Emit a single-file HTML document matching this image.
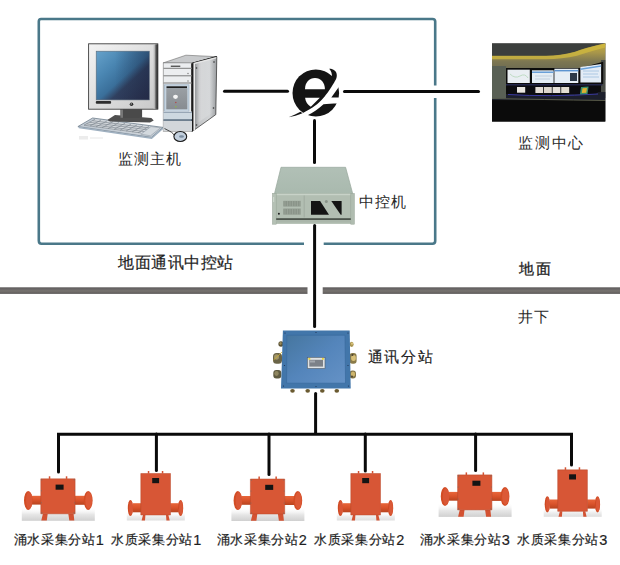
<!DOCTYPE html>
<html><head><meta charset="utf-8">
<style>
html,body{margin:0;padding:0;background:#fff;width:620px;height:565px;overflow:hidden}
body{position:relative;font-family:"Liberation Sans",sans-serif;color:#222}
svg{position:absolute;left:0;top:0}
.t{position:absolute;white-space:nowrap;line-height:1;font-size:15px;letter-spacing:1px;color:#2a2a2a}
.d{font-size:14.5px;line-height:0;position:relative;top:0.8px}
.s{position:absolute;white-space:nowrap;line-height:1;font-size:13px;letter-spacing:0.7px;color:#1e1e1e;-webkit-text-stroke:0.2px #1e1e1e}
</style></head><body>
<svg width="620" height="565" viewBox="0 0 620 565">
<defs>
<linearGradient id="scr" x1="0" y1="0" x2="1" y2="1">
<stop offset="0" stop-color="#66a2cb"/><stop offset="0.3" stop-color="#4a86b2"/><stop offset="0.52" stop-color="#3a6f9a"/><stop offset="0.64" stop-color="#30405f"/><stop offset="1" stop-color="#2a2f4b"/>
</linearGradient>
<linearGradient id="side2" x1="0" y1="0" x2="1" y2="0">
<stop offset="0" stop-color="#fff" stop-opacity="0"/><stop offset="0.3" stop-color="#fff" stop-opacity="0.25"/><stop offset="1" stop-color="#fff" stop-opacity="0"/>
</linearGradient>
<linearGradient id="side" x1="0" y1="0" x2="1" y2="0">
<stop offset="0" stop-color="#7a7d80"/><stop offset="0.3" stop-color="#c4c6c8"/><stop offset="0.7" stop-color="#d2d4d6"/><stop offset="1" stop-color="#9a9da0"/>
</linearGradient>
<linearGradient id="fpan" x1="0" y1="0" x2="0" y2="1">
<stop offset="0" stop-color="#9a9fa4"/><stop offset="1" stop-color="#878c91"/>
</linearGradient>
<linearGradient id="bez" x1="0" y1="0" x2="1" y2="1">
<stop offset="0" stop-color="#f4f4f4"/><stop offset="1" stop-color="#c8c8c8"/>
</linearGradient>
<linearGradient id="floor" x1="0" y1="0" x2="0" y2="1">
<stop offset="0" stop-color="#ffffff" stop-opacity="0"/><stop offset="1" stop-color="#d8d8d8"/>
</linearGradient>
<linearGradient id="wall" x1="0" y1="0" x2="0" y2="1">
<stop offset="0" stop-color="#c4ac3c"/><stop offset="0.25" stop-color="#a8964a"/><stop offset="0.5" stop-color="#7c7652"/><stop offset="1" stop-color="#5a5d52"/>
</linearGradient>
<linearGradient id="ipctop" x1="0" y1="0" x2="0" y2="1">
<stop offset="0" stop-color="#b1c0b6"/><stop offset="1" stop-color="#a9b9ae"/>
</linearGradient>
<linearGradient id="jbox" x1="0" y1="0" x2="1" y2="1">
<stop offset="0" stop-color="#46769f"/><stop offset="0.5" stop-color="#5485bb"/><stop offset="1" stop-color="#6592c6"/>
</linearGradient>
<linearGradient id="flr" x1="0" y1="0" x2="0" y2="1">
<stop offset="0" stop-color="#fff" stop-opacity="0"/><stop offset="0.55" stop-color="#e6e6e6"/><stop offset="1" stop-color="#d0d0d0"/>
</linearGradient>
<linearGradient id="pipe" x1="0" y1="0" x2="0" y2="1">
<stop offset="0" stop-color="#e8663a"/><stop offset="0.5" stop-color="#d9532b"/><stop offset="1" stop-color="#b8441f"/>
</linearGradient>
<linearGradient id="band" x1="0" y1="0" x2="0" y2="1">
<stop offset="0" stop-color="#5e5b5b"/><stop offset="0.3" stop-color="#6b6868"/><stop offset="0.55" stop-color="#77736f"/><stop offset="0.8" stop-color="#696563"/><stop offset="1" stop-color="#5c5a5a"/>
</linearGradient>
<linearGradient id="bezr" x1="0" y1="0" x2="1" y2="0">
<stop offset="0" stop-color="#d0d0d0" stop-opacity="0"/><stop offset="0.45" stop-color="#a8a8a8"/><stop offset="0.6" stop-color="#555"/><stop offset="1" stop-color="#2e2e2e"/>
</linearGradient>
<linearGradient id="scr2" x1="0" y1="0" x2="1" y2="0">
<stop offset="0" stop-color="#1a2440" stop-opacity="0"/><stop offset="0.35" stop-color="#1a2440" stop-opacity="0"/><stop offset="1" stop-color="#1a2440" stop-opacity="0.4"/>
</linearGradient>
<g id="bigdev">
  <rect x="-19" y="28" width="73" height="14" fill="url(#flr)"/>
  <rect x="-9" y="17" width="10" height="8.8" fill="url(#pipe)"/>
  <rect x="33.8" y="17" width="10.5" height="9" fill="url(#pipe)"/>
  <ellipse cx="-12.6" cy="21.6" rx="4.2" ry="9.5" fill="#d24c24"/>
  <ellipse cx="-11.6" cy="21.6" rx="3.2" ry="8.6" fill="#d95635"/>
  <ellipse cx="47.4" cy="21.6" rx="4.4" ry="9.5" fill="#d24c24"/>
  <ellipse cx="47.9" cy="21.6" rx="3.4" ry="8.3" fill="#dc5936"/>
  <path d="M2.1 35 L0.5 41.8 L6 41.8 L6.9 35Z M27.5 35 L28.5 41.8 L33.5 41.8 L32.8 35Z" fill="#d35232"/>
  <rect x="0" y="0" width="34.3" height="35" fill="#d85735"/>
  <path d="M0 0 H34.3 V35 H0Z" fill="none" stroke="#b9492a" stroke-width="0.5"/>
  <g fill="#7a6a64"><circle cx="1" cy="1" r="0.6"/><circle cx="33.3" cy="1" r="0.6"/><circle cx="1" cy="34" r="0.6"/><circle cx="33.3" cy="34" r="0.6"/><circle cx="0.6" cy="12" r="0.5"/><circle cx="33.7" cy="12" r="0.5"/><circle cx="0.6" cy="24" r="0.5"/><circle cx="33.7" cy="24" r="0.5"/></g>
  <rect x="14.8" y="5.8" width="8" height="5.1" fill="#141414"/>
  <rect x="8" y="-2.5" width="1.5" height="2.6" fill="#d35232"/><rect x="25" y="-2.5" width="1.5" height="2.6" fill="#d35232"/>
</g>
<g id="talldev">
  <rect x="-14" y="38" width="58" height="9" fill="url(#flr)" opacity="0.7"/>
  <rect x="-8" y="29.7" width="8.5" height="9.1" fill="url(#pipe)"/>
  <rect x="29.5" y="29.7" width="8.5" height="9.1" fill="url(#pipe)"/>
  <ellipse cx="-10.4" cy="34.5" rx="2.6" ry="8.1" fill="#cf4a23"/>
  <ellipse cx="-9.8" cy="34.5" rx="1.9" ry="7.2" fill="#d95635"/>
  <ellipse cx="39.8" cy="34.5" rx="2.6" ry="8.1" fill="#cf4a23"/>
  <ellipse cx="40.2" cy="34.5" rx="1.9" ry="7.2" fill="#da5836"/>
  <path d="M2.2 41.5 L0.8 47 L4.2 47 L4.6 41.5Z M25.2 41.5 L25.6 47 L28.9 47 L27.6 41.5Z" fill="#d35232"/>
  <rect x="0" y="0" width="29.7" height="41.5" fill="#d75636"/>
  <path d="M0 0 H29.7 V41.5 H0Z" fill="none" stroke="#b9492a" stroke-width="0.5"/>
  <rect x="11.4" y="4.5" width="6.9" height="5.2" fill="#141414"/>
  <rect x="7" y="-2.5" width="1.5" height="2.6" fill="#d35232"/><rect x="21" y="-2.5" width="1.5" height="2.6" fill="#d35232"/>
</g>
</defs>

<!-- frame -->
<path d="M304 19 H41 Q38.8 19 38.8 21.5 V240.5 Q38.8 243.7 41.5 243.7 H304 M323.7 243.7 H432.5 Q435.2 243.7 435.2 241 V98 M435.2 85.5 V21.5 Q435.2 19 432.5 19 H304" fill="none" stroke="#4a7889" stroke-width="2.6"/>
<!-- ground band -->
<rect x="0" y="287.3" width="307.5" height="6.6" fill="url(#band)"/>
<rect x="322.7" y="287.3" width="297.3" height="6.6" fill="url(#band)"/>

<!-- black lines -->
<g stroke="#0a0a0a" stroke-width="3" stroke-linecap="round" fill="none">
<line x1="224.5" y1="91.2" x2="287.5" y2="91.2"/>
<line x1="344.5" y1="91.6" x2="478.5" y2="91.6"/>
<line x1="314.5" y1="120.5" x2="314.5" y2="162.5"/>
<line x1="314.6" y1="225.5" x2="314.6" y2="326.5"/>
<line x1="315.6" y1="393.5" x2="315.6" y2="433"/>
<path d="M58.5 472 V434.3 H571.5 V465"/>
<line x1="156.4" y1="434" x2="156.4" y2="470.5"/>
<line x1="269" y1="434" x2="269" y2="474.5"/>
<line x1="365.3" y1="434" x2="365.3" y2="471"/>
<line x1="475.6" y1="434" x2="475.6" y2="470.5"/>
</g>

<!-- e logo -->
<g>
<ellipse cx="315.8" cy="93" rx="23.3" ry="23.6" fill="#141414"/>
<path d="M305 89.3 C305 82.5 309.3 78.1 315 78.1 C320.6 78.1 324.9 82.5 324.9 89.3 Z" fill="#fff"/>
<path d="M305.1 97.7 L319.8 97.7 L310.8 106.8 C307.5 104.8 305.5 101.5 305.1 97.7 Z" fill="#fff"/>
<path d="M289 117.6 C296 116.6 303.5 113.3 312.5 107.6 C316 105 318.5 103 320 101.4 C322.5 99 324.5 97 325.7 95 C328.5 91.5 331 88 332.6 85 C333.6 83.5 334.6 82 335.2 80.6 C336.4 78.5 337.2 76.5 337.1 74.5 C336.9 71.5 336 69 333.5 66 L345 66 L345 86.9 L338.8 86.9 L331.3 97.6 L345 97.6 L345 103.5 L337.5 103.5 C333 103.5 327 103.8 323.5 104.2 C318.5 108.5 313.5 112.5 306.6 115.8 C300 118.2 294 119 289 119.5 Z" fill="#fff"/>
<path d="M329.2 68.8 C333 68.6 336.7 71 336.8 75 C336.9 77.3 336.1 79.3 335.2 80.6 L332 77 C332 73.5 331.2 70.8 329.2 68.8 Z" fill="#141414"/>
<path d="M288.6 117.2 C293 116.5 298 115.2 302.5 113.2 L300.5 111.8 C296.5 114 292.5 116 288.6 117.2 Z" fill="#141414"/>
</g>

<!-- computer -->
<g>
<!-- keyboard -->
<path d="M77.9 126.6 L92.6 118 L163 127.4 L151.4 137.4 Z" fill="#c3ccd5" stroke="#6f7e8c" stroke-width="0.8" stroke-linejoin="round"/>
<rect x="79" y="136" width="9" height="3.5" fill="#ececec"/><rect x="90" y="137" width="13" height="2" fill="#f3f3f3"/>
<path d="M78.5 126.8 L151.4 137.4 L163 127.4 L163.2 129 L151.8 139 L78.8 128.3Z" fill="#9fb0c0"/>
<path d="M84 125.2 L95 119.3 L150 126.4 L140 134.2 Z" fill="#d5d9dd"/>
<g stroke="#7a838c" stroke-width="0.65">
<path d="M86.5 123.9 L144.5 131.6 M89.5 122.3 L147.3 129.7 M92.5 120.7 L149.5 128 M84 125.2 L141 133"/>
<path d="M95 119.3 L84 125.2 M101 120.1 L90 126 M107 120.9 L96 126.9 M113 121.7 L102 127.7 M119 122.5 L108 128.6 M125 123.3 L114 129.4 M131 124.1 L120 130.3 M137 124.9 L126 131.1 M143 125.7 L132 132 M149 126.4 L138 132.9"/>
</g>
<path d="M141 134.2 L151 126.6 L160.5 127.8 L150.5 135.8Z" fill="#d3d9de" stroke="#8b959f" stroke-width="0.5"/>
<path d="M107.3 120 L115 115 L151.4 118 L153.7 120.4 L150 122.5 L110 121.5 Z" fill="#505050"/>
<rect x="120.5" y="108.5" width="21.6" height="9.3" fill="#4a4a4a"/>
<rect x="120.5" y="108.5" width="2.5" height="9.3" fill="#777"/>
<!-- monitor -->
<rect x="88.6" y="43.8" width="69.2" height="65.4" fill="url(#bez)" stroke="#3e3e3e" stroke-width="0.9"/>
<rect x="152.5" y="44.3" width="5.6" height="64.6" fill="url(#bezr)"/>
<rect x="96.2" y="51.2" width="53.1" height="48.7" fill="url(#scr)" stroke="#5a6a7a" stroke-width="0.6"/>
<rect x="96.5" y="51.5" width="52.5" height="48.1" fill="url(#scr2)"/>
<rect x="95.8" y="100.9" width="15.3" height="2.8" rx="1" fill="#2d2d2d"/>
<circle cx="131.5" cy="104.3" r="1.8" fill="#2b2b2b"/>
<circle cx="131.2" cy="103.9" r="0.6" fill="#ddd"/>
<!-- tower -->
<path d="M163.2 62.9 L185.9 55.2 L216.8 56.7 L192 63.4Z" fill="#c8cacc" stroke="#6a6a6a" stroke-width="0.6"/>
<path d="M192 63.4 L216.8 56.7" stroke="#1e1e1e" stroke-width="1.2"/>
<rect x="163.2" y="62.9" width="28.8" height="68.3" fill="#eceef0" stroke="#7a7a7a" stroke-width="0.6"/>
<path d="M192 63.4 L216.8 56.7 L215.8 114.6 L192 131.6Z" fill="url(#side)" stroke="#2a2a2a" stroke-width="0.7"/>
<path d="M196 63 L214 58 L213.5 112 L196 124Z" fill="url(#side2)"/>
<line x1="192.4" y1="63.4" x2="192.4" y2="131" stroke="#1a1a1a" stroke-width="2.2"/>
<path d="M193.6 63 L195 62.6 L195 130.3 L193.6 131.2Z" fill="#ececec"/>
<path d="M195 62.6 L216.5 57 L216 58.5 L195 64Z" fill="#e6e6e6"/>
<circle cx="196.5" cy="68" r="0.8" fill="#333"/><circle cx="214" cy="62" r="0.8" fill="#333"/>
<circle cx="213.5" cy="108" r="0.8" fill="#333"/><circle cx="196.5" cy="125" r="0.8" fill="#333"/>
<rect x="170.8" y="65.6" width="9.5" height="1.3" fill="#4a4a4a"/>
<line x1="163.5" y1="68.3" x2="192" y2="68.3" stroke="#7d7d7d" stroke-width="1"/>
<line x1="163.5" y1="75.8" x2="192" y2="75.8" stroke="#7d7d7d" stroke-width="1"/>
<line x1="163.5" y1="83" x2="192" y2="83" stroke="#7d7d7d" stroke-width="1"/>
<circle cx="188" cy="73.5" r="0.7" fill="#777"/><circle cx="188" cy="81" r="0.7" fill="#777"/>
<rect x="164.3" y="84.8" width="24.7" height="26.5" fill="#c5d3df" stroke="#94a9bd" stroke-width="0.6"/>
<rect x="166.3" y="88.3" width="21" height="21" fill="url(#fpan)"/>
<rect x="166.5" y="86.3" width="20.5" height="1.8" fill="#1e1e1e"/>
<ellipse cx="175.5" cy="96.8" rx="2.4" ry="2.1" fill="#f4f4f4"/>
<circle cx="175.8" cy="102.5" r="0.8" fill="#b04a4a"/>
<circle cx="175.8" cy="106.7" r="0.8" fill="#90b848"/>
<rect x="163.5" y="111.5" width="28.5" height="8" fill="#cdd8e0"/>
<rect x="163.5" y="112.2" width="28.5" height="0.8" fill="#8a9aaa"/>
<rect x="163.5" y="119.3" width="28.5" height="1.5" fill="#4f6478"/>
<rect x="163.5" y="121" width="28.5" height="10" fill="#d2d6da"/>
<path d="M164.5 128.5 C168 130.5 171 131.5 173 133.5 C174.5 135.5 175.5 138 177 139.5" stroke="#222" stroke-width="0.8" fill="none"/>
<ellipse cx="180.3" cy="136.5" rx="6.4" ry="5" fill="#c3d0de" stroke="#1a1a1a" stroke-width="1.1"/>
<ellipse cx="181.5" cy="136.5" rx="2.5" ry="1.2" fill="#7d8fa2"/>
</g>

<!-- monitoring center photo -->
<g>
<rect x="492" y="43.5" width="113.3" height="78" fill="#0d0d0d"/>
<path d="M492 43.5 H605.3 V44.5 Q585 49.5 575 53.5 Q560 57.5 546 57.5 H492Z" fill="#3c3f3d"/>
<path d="M492 56 H546 Q560 56 575 52 Q585 48 605.3 43.5 V80 H492Z" fill="url(#wall)"/>
<path d="M492 55.8 H546 Q560 55.8 575 51.8 Q585 47.8 605.3 43.3 V47.5 Q588 52 577 55.8 Q562 59.2 546 59.2 H492Z" fill="#d2ba3e" opacity="0.75"/>
<rect x="492" y="66" width="14" height="32" fill="#596055"/>
<rect x="494" y="70" width="9" height="14" fill="#66766f"/>
<path d="M601 60 H605.3 V98 H601Z" fill="#4a4d48"/>
<path d="M505.4 68.1 H580 L603.2 61.8 V84 H505.4Z" fill="#0b0b0b"/>
<rect x="507.5" y="69.7" width="22.3" height="13.3" fill="#e9eef2"/>
<rect x="532" y="70.3" width="21.6" height="12.7" fill="#e4edf4"/>
<rect x="532" y="71.5" width="21.6" height="1.5" fill="#6aa0d8"/>
<rect x="554.4" y="68.7" width="23.9" height="14.3" fill="#e6eef5"/>
<rect x="554.4" y="70" width="23.9" height="1.4" fill="#5d94d0"/>
<rect x="570" y="73" width="7" height="8" fill="#2e3a48"/>
<path d="M580.4 67.1 L601.1 63.9 V82.5 H580.4Z" fill="#e3ecf6"/>
<path d="M580.4 68.5 L601.1 65.3 V66.8 L580.4 70Z" fill="#6aa2dc"/>
<path d="M510 74 Q515 79 520 76 T528 78" stroke="#bfdcc4" stroke-width="1" fill="none"/>
<path d="M535 76 H552 M535 79 H550" stroke="#b9c9d9" stroke-width="0.8"/>
<path d="M583 71 H599 M583 74 H598 M583 77 H599" stroke="#9fc0e0" stroke-width="0.8"/>
<rect x="505.4" y="84" width="97" height="1.5" fill="#23264a"/>
<path d="M492 100 H605.3 V92 Q580 92 560 95 Q530 96 507 94 H492Z" fill="#1c1f2c"/>
<path d="M492 98.5 Q540 99.5 605.3 100.5" stroke="#5a5c4a" stroke-width="1" fill="none"/>
<rect x="492" y="66" width="14" height="32.5" fill="#596055"/>
<rect x="507.4" y="86" width="90.9" height="8.2" rx="4.1" fill="#0c0c10"/>
<path d="M508 94.5 Q550 97 598 94" stroke="#3a3aa0" stroke-width="1" fill="none"/>
<rect x="517" y="87" width="8.2" height="5.7" fill="#e9e6e0"/>
<rect x="535.4" y="87" width="7.8" height="6" fill="#e4ded6"/>
<rect x="544" y="87" width="7.8" height="6" fill="#dcd6cc"/>
<rect x="552.6" y="87" width="7.8" height="6" fill="#e6e2da"/>
<rect x="561.2" y="87" width="8" height="6" fill="#e3ddd2"/>
<path d="M581 87 L588.6 86.5 L587.5 94 L579.9 94.5Z" fill="#3b8d6a"/>
<path d="M582.5 88.3 L587 88 L586.2 92.8 L581.8 93.1Z" fill="#e0b030"/>
<rect x="492" y="101" width="113.3" height="20.5" fill="#0b0b0b"/>
</g>

<!-- industrial PC -->
<g>
<path d="M281 167.3 H345.6 L352.8 194 H274.4Z" fill="url(#ipctop)" stroke="#98a89c" stroke-width="0.7"/>
<rect x="273" y="193.5" width="80.5" height="30.4" fill="#b2beb2"/>
<rect x="276" y="193.8" width="75" height="1.4" fill="#c8d2c8"/>
<rect x="272.4" y="193.6" width="3.8" height="30.6" fill="#b5c1b5" stroke="#97a497" stroke-width="0.5"/>
<rect x="273" y="197" width="1.2" height="5" fill="#cdd7cd"/>
<rect x="350.8" y="193.6" width="3.6" height="30.6" fill="#b0bcb0" stroke="#97a497" stroke-width="0.5"/>
<rect x="276.2" y="218.2" width="74.6" height="1.8" fill="#4d554d"/>
<rect x="276.2" y="220" width="74.6" height="2.5" fill="#aab6aa"/>
<line x1="304.2" y1="195.5" x2="304.2" y2="217.5" stroke="#9eaa9e" stroke-width="0.9"/>
<rect x="283.3" y="200.9" width="17.4" height="5.6" fill="#8a9489"/>
<rect x="283.3" y="208.6" width="17.4" height="6" fill="#8a9489"/>
<g stroke="#a6b0a4" stroke-width="0.5">
<path d="M285 200.9 V206.5 M287.5 200.9 V206.5 M290 200.9 V206.5 M292.5 200.9 V206.5 M295 200.9 V206.5 M297.5 200.9 V206.5 M300 200.9 V206.5 M285 208.6 V214.6 M287.5 208.6 V214.6 M290 208.6 V214.6 M292.5 208.6 V214.6 M295 208.6 V214.6 M297.5 208.6 V214.6 M300 208.6 V214.6"/>
</g>
<circle cx="278.9" cy="213.8" r="1" fill="#1e1e1e"/>
<path d="M311 201.1 H320.1 L329 214.7 H311Z" fill="#141414"/>
<path d="M331.3 201.1 H341.6 V214.7 H340.7Z" fill="#141414"/>
<circle cx="326.3" cy="201.5" r="1.5" fill="#8a948a"/>
</g>

<!-- junction box -->
<g>
<g>
<ellipse cx="281" cy="344" rx="2.6" ry="2.8" fill="#5a5236"/><ellipse cx="280.5" cy="343.5" rx="1.2" ry="1.4" fill="#9a8a58"/>
<rect x="273" y="353" width="9" height="10.7" rx="3.5" fill="#6a6448"/><ellipse cx="276.5" cy="357" rx="2.5" ry="2.8" fill="#a09468"/>
<path d="M273.5 360 Q278 356 282 352" stroke="#d0b030" stroke-width="0.8" fill="none"/>
<rect x="273.3" y="370.1" width="8" height="8.5" rx="3" fill="#5e5a40"/><ellipse cx="276.5" cy="373.5" rx="2.2" ry="2.4" fill="#8f8660"/>
<ellipse cx="351.6" cy="344.3" rx="2" ry="2.6" fill="#a89450"/><ellipse cx="352" cy="343.6" rx="1" ry="1.2" fill="#e0c880"/>
<rect x="349.5" y="353" width="7.1" height="10.7" rx="3" fill="#8a7a48"/><ellipse cx="353.5" cy="358" rx="2.4" ry="3" fill="#d8c078"/><circle cx="352.5" cy="355" r="1" fill="#4a4030"/>
<rect x="349.5" y="370.6" width="6.5" height="8" rx="3" fill="#857646"/><ellipse cx="353" cy="374" rx="2.2" ry="2.6" fill="#cfb66c"/><circle cx="352" cy="376.5" r="0.9" fill="#4a4030"/>
<ellipse cx="292.5" cy="390.8" rx="2.3" ry="1.9" fill="#6a5a30"/>
<ellipse cx="307.7" cy="390.8" rx="2.3" ry="1.9" fill="#6a5a30"/>
<ellipse cx="322.3" cy="390.8" rx="2.3" ry="1.9" fill="#6a5a30"/>
<ellipse cx="336.8" cy="390.8" rx="2.3" ry="1.9" fill="#6a5a30"/>
</g>
<path d="M282.9 330.6 H349.7 L350.7 388.5 H281 Z" fill="#4276aa"/>
<path d="M286.8 335.2 H345 L345.5 383.2 H286.6 Z" fill="url(#jbox)" stroke="#3a6a9e" stroke-width="0.7"/>
<rect x="307.3" y="357.3" width="17.7" height="11.2" fill="#dfe2e4" stroke="#4f5a66" stroke-width="0.6"/>
<rect x="309.3" y="359.8" width="13.7" height="6.8" fill="#7c8188"/>
<rect x="310" y="360.5" width="5" height="2" fill="#a3a8ad"/>
<rect x="308.5" y="358.1" width="1.8" height="1.6" fill="#e8d21c"/><rect x="322" y="358.1" width="1.8" height="1.6" fill="#e8d21c"/>
<g fill="#1e3050">
<circle cx="285" cy="333" r="0.6"/><circle cx="316" cy="332.5" r="0.6"/><circle cx="348" cy="333" r="0.6"/>
<circle cx="284.5" cy="365.5" r="0.6"/><circle cx="348" cy="365.5" r="0.6"/>
<circle cx="283.5" cy="386" r="0.6"/><circle cx="316" cy="386.5" r="0.6"/><circle cx="348.5" cy="386" r="0.6"/>
</g>
</g>

<!-- red devices -->
<use href="#bigdev" x="40.8" y="478.8"/>
<use href="#talldev" x="140.8" y="473.5"/>
<use href="#bigdev" x="250.4" y="479"/>
<use href="#talldev" x="350.8" y="473.5"/>
<use href="#bigdev" x="457.6" y="474.9"/>
<use href="#talldev" x="557.7" y="469.8"/>
</svg>

<div class="t" style="left:117.5px;top:151px">监测主机</div>
<div class="t" style="left:518px;top:134.5px;letter-spacing:1.8px">监测中心</div>
<div class="t" style="left:359px;top:194px">中控机</div>
<div class="t" style="left:118px;top:254.5px;font-size:16px;letter-spacing:0.5px;-webkit-text-stroke:0.2px #1e1e1e;color:#1e1e1e">地面通讯中控站</div>
<div class="t" style="left:518.5px;top:261px;letter-spacing:2px;-webkit-text-stroke:0.3px #1e1e1e;color:#1e1e1e">地面</div>
<div class="t" style="left:518px;top:309px;letter-spacing:0.5px">井下</div>
<div class="t" style="left:367.5px;top:348.5px;letter-spacing:1.7px;-webkit-text-stroke:0.15px #222;color:#222">通讯分站</div>
<div class="s" style="left:13.5px;top:533px">涌水采集分站<span class="d">1</span></div>
<div class="s" style="left:111px;top:533px">水质采集分站<span class="d">1</span></div>
<div class="s" style="left:216.5px;top:533px">涌水采集分站<span class="d">2</span></div>
<div class="s" style="left:314px;top:533px">水质采集分站<span class="d">2</span></div>
<div class="s" style="left:419.5px;top:533px">涌水采集分站<span class="d">3</span></div>
<div class="s" style="left:517px;top:533px">水质采集分站<span class="d">3</span></div>
</body></html>
